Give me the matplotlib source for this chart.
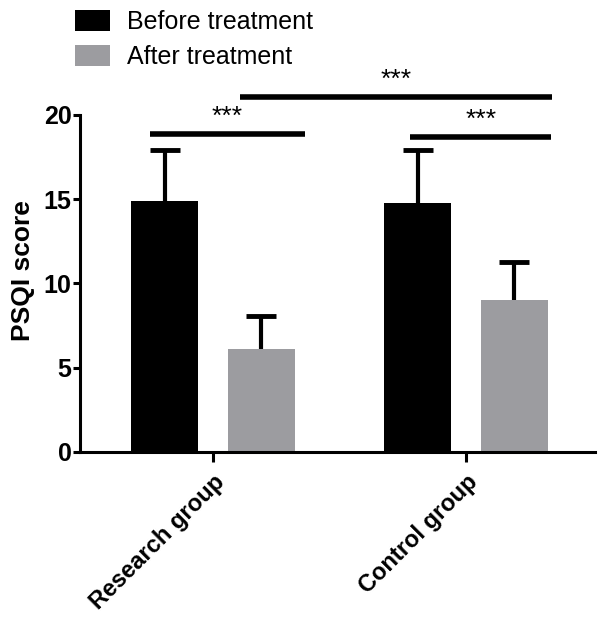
import matplotlib
matplotlib.use('Agg')
import matplotlib.pyplot as plt
import numpy as np

plt.rcParams['font.family'] = ['Liberation Sans', 'DejaVu Sans']

groups = ['Research group', 'Control group']
series = ['Before treatment', 'After treatment']
before_mean = [14.9, 14.8]
before_sd = [3.0, 3.1]
after_mean = [6.1, 9.0]
after_sd = [2.0, 2.3]
colors = ['#000000', '#9c9ca0']

# significance brackets: (x start, x end, height)
sig_lines = [(-0.25, 0.365, 18.9), (0.107, 1.34, 21.05), (0.78, 1.336, 18.7)]
sig_text = ['***', '***', '***']

fig = plt.figure(figsize=(6, 6.23), dpi=100)
ax = fig.add_axes([0.1333, 0.2745, 0.8584, 0.5815])

x = np.arange(len(groups))
w = 0.265
off = 0.19
for xs, m, sd, c, lab in [(x - off, before_mean, before_sd, colors[0], series[0]),
                           (x + off, after_mean, after_sd, colors[1], series[1])]:
    ax.errorbar(xs, m, yerr=sd, fmt='none', ecolor='black', elinewidth=3,
                capsize=11, capthick=3.5, zorder=1)
    ax.bar(xs, m, width=w, color=c, label=lab, zorder=2)

for (x0, x1, h), t in zip(sig_lines, sig_text):
    ax.plot([x0, x1], [h, h], color='black', lw=4, solid_capstyle='butt', clip_on=False)
    ax.text((x0 + x1) / 2, h + 0.3, t, ha='center', va='bottom', fontsize=19, clip_on=False)

ax.set_xlim(-0.526, 1.51)
ax.set_ylim(0, 21.5)
ax.set_yticks([0, 5, 10, 15, 20])
ax.set_xticks(x)
ax.set_xticklabels(groups, rotation=45, ha='right', rotation_mode='anchor',
                   fontsize=17, fontweight='bold')
for lbl in ax.get_yticklabels():
    lbl.set_fontsize(18)
    lbl.set_fontweight('bold')
ax.set_ylabel('PSQI score', fontsize=19, fontweight='bold', labelpad=6)

for s in ['top', 'right']:
    ax.spines[s].set_visible(False)
ax.spines['left'].set_linewidth(2.2)
ax.spines['bottom'].set_linewidth(2.2)
ax.spines['left'].set_bounds(0, 20)
ax.tick_params(axis='both', width=2.2, length=5)
ax.tick_params(axis='y', pad=1)
ax.tick_params(axis='x', length=7, pad=6)

fig.legend(loc='upper left', bbox_to_anchor=(0.088, 1.02), frameon=False,
           fontsize=18, handlelength=1.4, handleheight=0.9, labelspacing=0.45,
           handletextpad=0.65)

fig.savefig('out.png', dpi=100)
